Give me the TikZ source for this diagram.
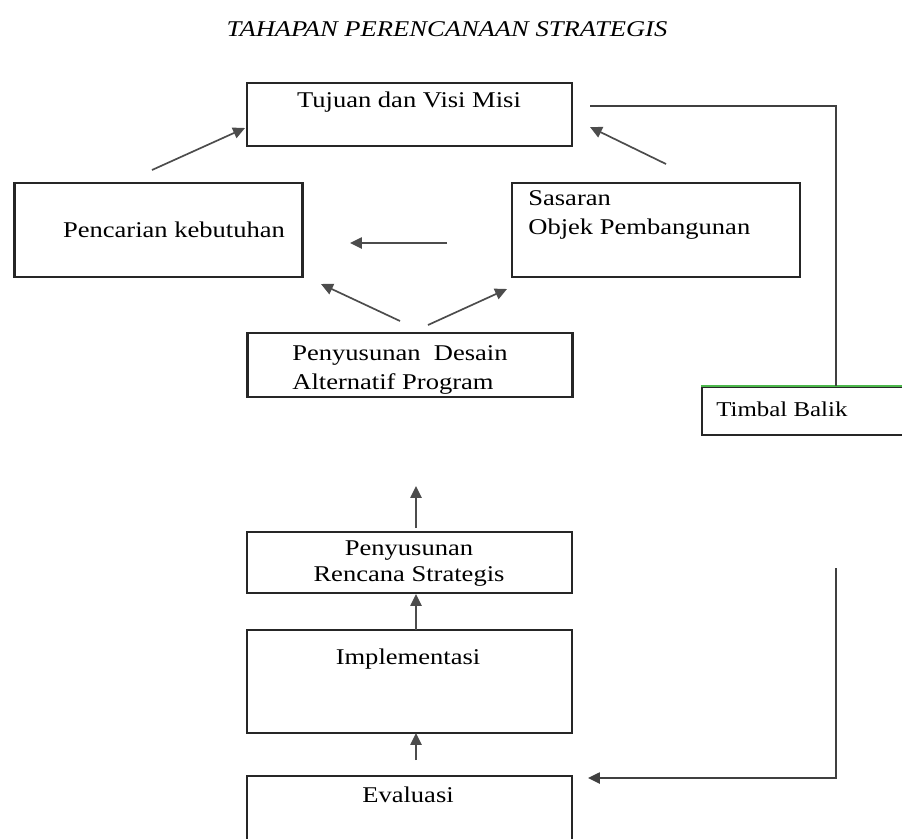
\documentclass[tikz,border=0pt]{standalone}
\usepackage{fontspec}
\setmainfont{Liberation Serif}
\usetikzlibrary{arrows.meta,positioning}
\tikzset{
  box/.style={draw=black!85,line width=1.5pt,rectangle,minimum width=8.125cm,inner sep=0pt},
  sidebox/.style={box,minimum width=7.2cm,minimum height=2.35cm},
  txt/.style={inner sep=0pt,xscale=1.18,font=\fontsize{16}{21}\selectfont},
  heading/.style={txt,font=\fontsize{16}{21}\selectfont\itshape},
  flow/.style={->,draw=black!70,line width=1.2pt},
  back/.style={draw=black!75,line width=1.2pt}
}

\begin{document}
\begin{tikzpicture}[x=0.025cm,y=-0.025cm,>={Triangle[length=8.5pt,width=8pt]}]
  \clip (0,0) rectangle (902,838);
  \node[heading,anchor=base] (judul) at (447,36) {TAHAPAN PERENCANAAN STRATEGIS};

  \node[box,minimum height=1.575cm] (tujuan) at (409.5,114.5) {};
  \node[sidebox] (cari) at (158.5,230) {};
  \node[sidebox] (sasaran) at (656,230) {};
  \node[box,minimum height=1.6cm] (desain) at (410,365) {};
  \node[box,minimum height=1.525cm] (renstra) at (409.5,562.5) {};
  \node[box,minimum height=2.575cm] (impl) at (409.5,681.5) {};
  \node[box,minimum height=2.575cm] (eval) at (409.5,827.5) {};
  \node[box,minimum width=5.5cm,minimum height=1.2cm] (timbal) at (812,411) {};
  \draw[green!60!black!70,line width=1.5pt] (timbal.north west) -- (timbal.north east);

  \node[txt,anchor=base] (ttujuan) at (409,107) {Tujuan dan Visi Misi};
  \node[txt,anchor=base] (tcari) at (174,237) {Pencarian kebutuhan};
  \node[txt,anchor=north west,align=left] (tsasaran) at (528,190)
    {Sasaran\\Objek Pembangunan};
  \node[txt,anchor=north west,align=left] (tdesain) at (292,345)
    {Penyusunan~~Desain\\Alternatif Program};
  \node[txt,anchor=north,align=center] (trenstra) at (409,540)
    {Penyusunan\\[-2pt]Rencana Strategis};
  \node[txt,anchor=base] (timpl) at (408,664) {Implementasi};
  \node[txt,anchor=base] (teval) at (408,802) {Evaluasi};
  \node[txt,anchor=base west,font=\fontsize{15}{18}\selectfont] (ttimbal) at (716,416) {Timbal Balik};

  % arrow ends
  \coordinate (c1) at (152,170);  \coordinate (c2) at (245,128);
  \coordinate (c3) at (666,164);  \coordinate (c4) at (590,127);
  \coordinate (c5) at (447,243);  \coordinate (c6) at (350,243);
  \coordinate (c7) at (400,321);  \coordinate (c8) at (321,284);
  \coordinate (c9) at (428,325);  \coordinate (c10) at (507,289);
  \coordinate (c11) at (416,528); \coordinate (c12) at (416,486);
  \coordinate (c13) at (416,630); \coordinate (c14) at (416,594);
  \coordinate (c15) at (416,760); \coordinate (c16) at (416,733);

  \draw[flow] (c1) -- (c2);
  \draw[flow] (c3) -- (c4);
  \draw[flow] (c5) -- (c6);
  \draw[flow] (c7) -- (c8);
  \draw[flow] (c9) -- (c10);
  \draw[flow] (c11) -- (c12);
  \draw[flow] (c13) -- (c14);
  \draw[flow] (c15) -- (c16);

  % umpan balik
  \coordinate (f1) at (590,106);
  \coordinate (f2) at (836,568);
  \coordinate (f3) at (588,778);
  \draw[back] (f1) -| (timbal.north -| 836,0);
  \draw[back,->] (f2) |- (f3);
\end{tikzpicture}
\end{document}
